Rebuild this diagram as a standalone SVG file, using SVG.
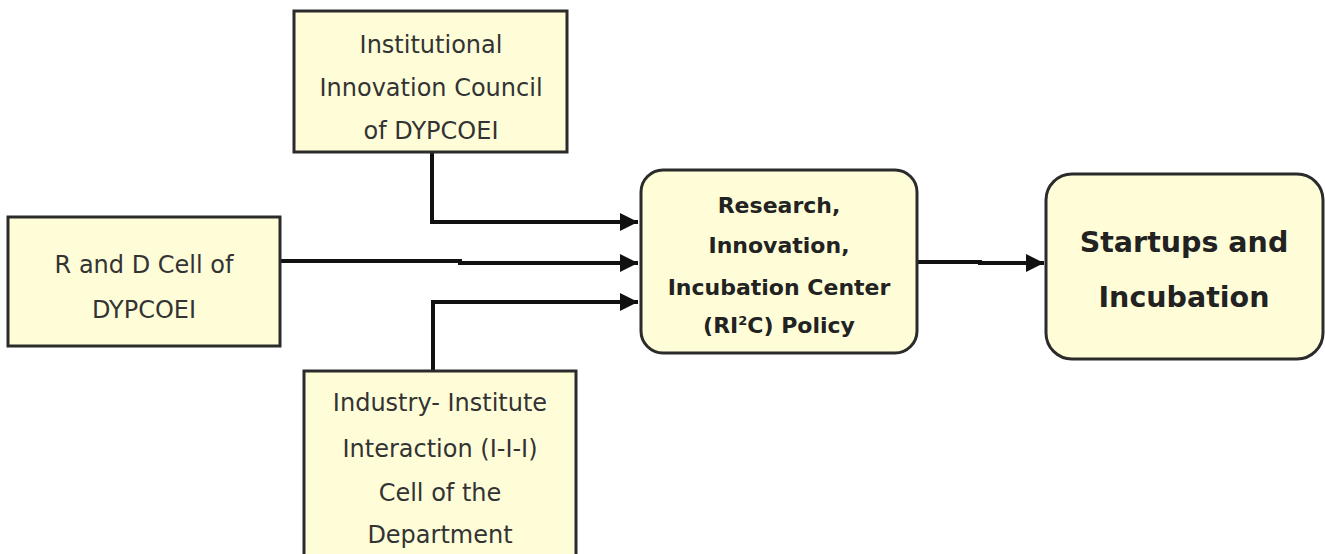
<svg xmlns="http://www.w3.org/2000/svg" width="1325" height="554" viewBox="0 0 1325 554">
<style>
.box{fill:#fefdd8;stroke:#2b2b2b;stroke-width:3}
.t{font-family:"DejaVu Sans",Verdana,sans-serif;font-size:24px;fill:#333;text-anchor:middle}
.b{font-family:"DejaVu Sans",Verdana,sans-serif;font-size:22px;font-weight:bold;fill:#222;text-anchor:middle}
.bb{font-family:"DejaVu Sans",Verdana,sans-serif;font-size:28.5px;font-weight:bold;fill:#222;text-anchor:middle}
.c{fill:none;stroke:#111;stroke-width:4}
</style>
<defs>
<marker id="ah" viewBox="0 0 10 10" refX="10" refY="5" markerWidth="4.5" markerHeight="4.5" markerUnits="strokeWidth" orient="auto">
<path d="M0,0 L10,5 L0,10 Z" fill="#111"/>
</marker>
</defs>
<rect width="1325" height="554" fill="#fff"/>
<g id="connectors">
<path class="c" d="M432,152 V222 H638" marker-end="url(#ah)"/>
<path class="c" d="M280,261 H460 V263 H638" marker-end="url(#ah)"/>
<path class="c" d="M433,371 V302 H638" marker-end="url(#ah)"/>
<path class="c" d="M917,262 H980 V263 H1044" marker-end="url(#ah)"/>
</g>
<g id="iic">
<rect class="box" x="294" y="11" width="273" height="141"/>
<text class="t" x="431" y="53">Institutional</text>
<text class="t" x="431" y="96">Innovation Council</text>
<text class="t" x="431" y="139">of DYPCOEI</text>
</g>
<g id="rd">
<rect class="box" x="8" y="217" width="272" height="129"/>
<text class="t" x="144" y="273">R and D Cell of</text>
<text class="t" x="144" y="318">DYPCOEI</text>
</g>
<g id="iii">
<rect class="box" x="304" y="371" width="272" height="200"/>
<text class="t" x="440" y="411">Industry- Institute</text>
<text class="t" x="440" y="457">Interaction (I-I-I)</text>
<text class="t" x="440" y="501">Cell of the</text>
<text class="t" x="440" y="543">Department</text>
</g>
<g id="ri2c">
<rect class="box" x="641" y="170" width="276" height="183" rx="22"/>
<text class="b" x="779" y="213">Research,</text>
<text class="b" x="779" y="253">Innovation,</text>
<text class="b" x="779" y="295">Incubation Center</text>
<text class="b" x="779" y="333">(RI<tspan font-size="13" dy="-8">2</tspan><tspan dy="8">C) Policy</tspan></text>
</g>
<g id="startups">
<rect class="box" x="1046" y="174" width="277" height="185" rx="26"/>
<text class="bb" x="1184" y="252">Startups and</text>
<text class="bb" x="1184" y="307">Incubation</text>
</g>
</svg>
